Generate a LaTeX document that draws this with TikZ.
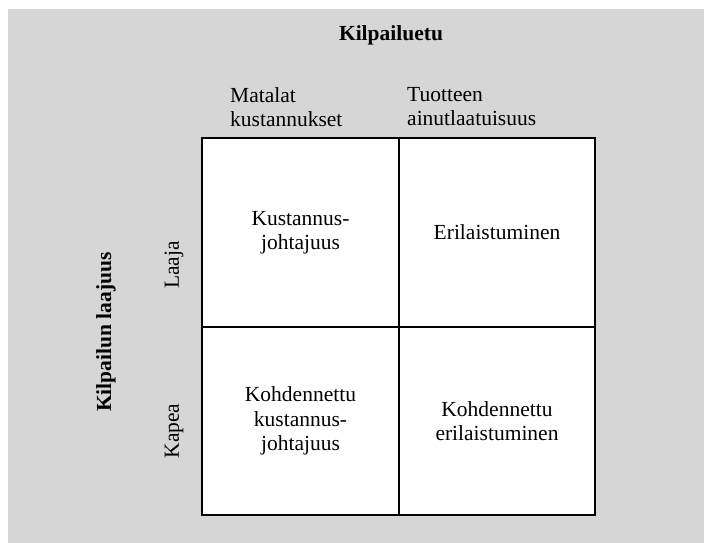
\documentclass[tikz,border=0pt]{standalone}
\usepackage{fontspec}
\setmainfont{Liberation Serif}
\usetikzlibrary{positioning}
\definecolor{bggray}{RGB}{214,214,214}

\begin{document}
\begin{tikzpicture}[x=1pt, y=-1pt, node distance=0pt,
    every node/.style={font=\fontsize{21.5}{24.5}\selectfont}]
    \tikzstyle{cell} = [rectangle, draw=black, line width=1.7pt, fill=white,
        minimum width=196.5pt, minimum height=188.5pt, outer sep=0pt,
        inner sep=0pt, align=center]
    \tikzstyle{head} = [anchor=north west, inner sep=0pt, align=left]
    \tikzstyle{side} = [rotate=90, inner sep=0pt]
    \tikzstyle{title} = [font=\bfseries\fontsize{21.5}{24.5}\selectfont]
    \useasboundingbox (0,0) rectangle (704,543);
    \fill [bggray] (8,9) rectangle (704,543);

    \node (lowcost) [cell] at (300.5,232.5) {Kustannus-\\johtajuus};
    \node (differ) [cell, right=of lowcost] {Erilaistuminen};
    \node (focuscost) [cell, below=of lowcost] {Kohdennettu\\kustannus-\\johtajuus};
    \node (focusdiff) [cell, below=of differ] {Kohdennettu\\erilaistuminen};

    \node (advantage) [title] at (391,35) {Kilpailuetu};
    \node (costs) [head] at (230,87) {Matalat\\kustannukset};
    \node (unique) [head] at (407,87) {Tuotteen\\ainutlaatuisuus};

    \node (scope) [side, title] at (106,332) {Kilpailun laajuus};
    \node (broad) [side] at (174,265) {Laaja};
    \node (narrow) [side] at (174,431) {Kapea};
\end{tikzpicture}
\end{document}
